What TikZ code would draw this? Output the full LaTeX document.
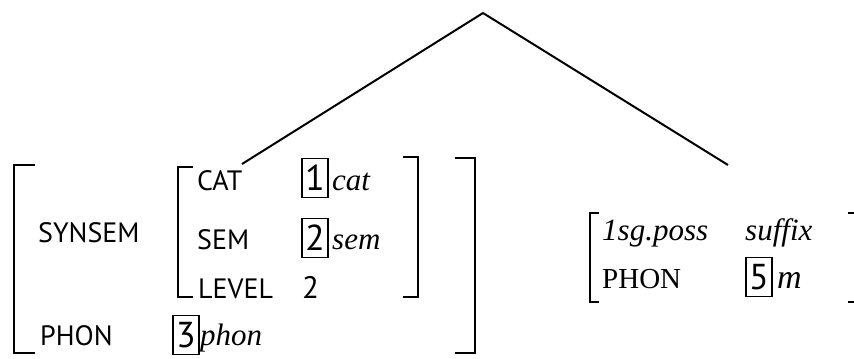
\documentclass[tikz,border=0pt]{standalone}
\usepackage{fontspec}
\setmainfont{Liberation Serif}
\newfontfamily\avmfont{PT Sans}
\usepackage{tikz}
\usetikzlibrary{positioning, calc}
\tikzset{
  avmattr/.style={anchor=base west, inner sep=0pt, font=\avmfont\fontsize{28bp}{32bp}\selectfont},
  avmsc/.style={anchor=base west, inner sep=0pt, font=\rmfamily\fontsize{29bp}{32bp}\selectfont},
  avmval/.style={anchor=base west, inner sep=0pt, font=\itshape\fontsize{31bp}{36bp}\selectfont},
  avmtag/.style={draw, line width=1.3bp, inner sep=0pt, minimum width=26bp, minimum height=39bp,
    font=\avmfont\fontsize{36bp}{40bp}\selectfont},
  avmbrk/.style={line width=2.4bp},
  treeline/.style={line width=2bp},
}

\begin{document}
\begin{tikzpicture}[x=1bp, y=-1bp]
  \useasboundingbox (0,0) rectangle (854,358);
  % tree
  \coordinate (root) at (483,13);
  \coordinate (stem) at (242,164);
  \coordinate (suff) at (728,165);
  \foreach \b in {stem,suff} \draw[treeline] (root) -- (\b);
  % left AVM
  \draw[avmbrk] (35,165) -- (14,165) -- (14,353) -- (35,353);
  \draw[avmbrk] (455,158) -- (475,158) -- (475,353) -- (455,353);
  \node[avmattr] (synsem) at (38,242) {SYNSEM};
  \draw[avmbrk] (193,167) -- (178,167) -- (178,297) -- (193,297);
  \draw[avmbrk] (403,157) -- (418,157) -- (418,297) -- (403,297);
  \node[avmattr] (cat) at (197,190) {CAT};
  \node[avmtag] (t1) at (315,178) {1};
  \node[avmval] (catv) at (332,190) {cat};
  \node[avmattr] (sem) at (197,249) {SEM};
  \node[avmtag] (t2) at (315,238) {2};
  \node[avmval] (semv) at (332,249) {sem};
  \node[avmattr] (level) at (198,298) {LEVEL};
  \node[avmattr, font=\avmfont\fontsize{31bp}{34bp}\selectfont] (levelv) at (302,298) {2};
  \node[avmattr] (phon) at (40,345) {PHON};
  \node[avmtag] (t3) at (186,335) {3};
  \node[avmval] (phonv) at (200,345) {phon};
  % right AVM
  \draw[avmbrk] (599,213) -- (590,213) -- (590,302) -- (599,302);
  \draw[avmbrk] (848,213) -- (857,213) -- (857,302) -- (848,302);
  \node[avmval] (poss) at (602,240) {1sg.poss};
  \node[avmval] (suffv) at (745,240) {suffix};
  \node[avmsc] (phon2) at (602,288) {PHON};
  \node[avmtag] (t5) at (759,277) {5};
  \node[avmval, font=\itshape\fontsize{34bp}{38bp}\selectfont] (mv) at (777,288) {m};
\end{tikzpicture}
\end{document}
